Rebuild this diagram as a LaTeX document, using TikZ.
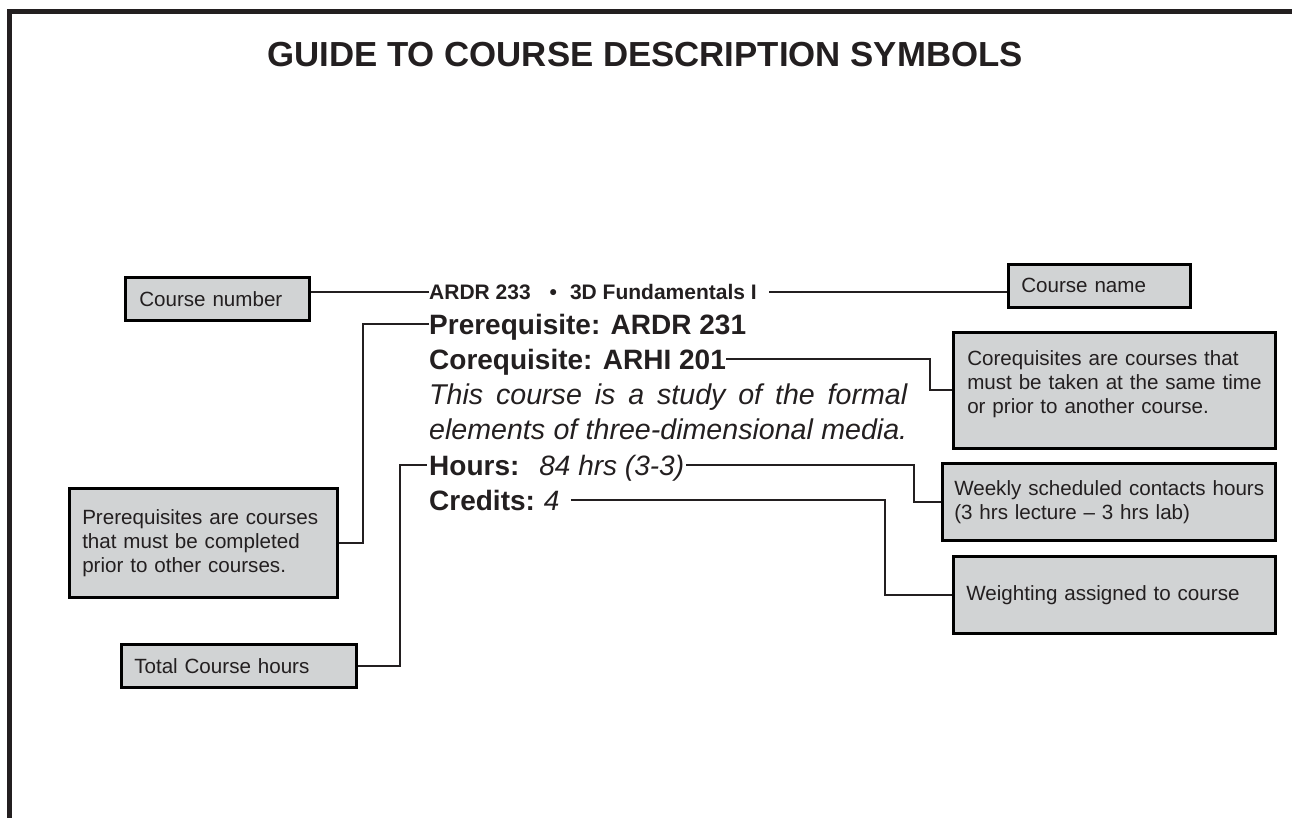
\documentclass[tikz,border=0pt]{standalone}
\usepackage{fontspec}
\setmainfont{Liberation Sans}
\usetikzlibrary{calc}
\definecolor{ink}{HTML}{231F20}
\definecolor{boxgray}{HTML}{D1D3D4}
\tikzset{
  gbox/.style={draw=black, fill=boxgray, line width=2.5pt, inner ysep=0pt,
    anchor=north west, align=left, text=ink,
    font=\fontsize{20.6}{24}\selectfont},
  conn/.style={draw=ink, line width=2.2pt},
  bigtxt/.style={anchor=west, inner sep=0pt, text=ink, text height=20pt, text depth=0pt,
    font=\fontsize{28}{34}\selectfont},
  smalltxt/.style={anchor=west, inner sep=0pt, text=ink, text height=15pt, text depth=0pt,
    font=\bfseries\fontsize{21}{24}\selectfont},
}
\begin{document}
\begin{tikzpicture}[x=1pt,y=-1pt]
\useasboundingbox (0,0) rectangle (1292,818);
% frame
\draw[ink, line width=5pt, line join=miter] (1295,11.5) -- (9.5,11.5) -- (9.5,821);
% title
\node[text=ink, inner sep=0pt, font=\bfseries\fontsize{34.8}{40}\selectfont] (title) at (645,55)
  {GUIDE TO COURSE DESCRIPTION SYMBOLS};

% central description
\node[smalltxt] (ardr) at (429,292) {ARDR 233\hspace{19pt}•\hspace{13pt}3D Fundamentals I};
\node[bigtxt, font=\bfseries\fontsize{28}{34}\selectfont] (pre) at (429,324) {Prerequisite: ARDR 231};
\node[bigtxt, font=\bfseries\fontsize{28}{34}\selectfont] (co) at (429,359) {Corequisite: ARHI 201};
\node[bigtxt, font=\itshape\fontsize{28.6}{34}\selectfont] (desc1) at (429,394)
  {\makebox[478pt][s]{This course is a study of the formal}};
\node[bigtxt, font=\itshape\fontsize{28.6}{34}\selectfont] (desc2) at (429,429)
  {\makebox[478pt][s]{elements of three-dimensional media.}};
\node[bigtxt] (hrs) at (429,465) {\textbf{Hours:}\hspace{20pt}\textit{84 hrs (3-3)}};
\node[bigtxt] (cred) at (429,500) {\textbf{Credits:}\hspace{9pt}\textit{4}};

% boxes
\node[gbox, inner xsep=14pt, text width=156pt, minimum width=184pt, minimum height=43pt]
  (cnum) at (124,276) {Course number};
\node[gbox, inner xsep=13pt, text width=156pt, minimum width=182pt, minimum height=43pt]
  (cname) at (1007,263) {Course name};
\node[gbox, inner xsep=14pt, text width=294pt, minimum width=322pt, minimum height=116pt]
  (cobox) at (952,331)
  {\makebox[294pt][s]{Corequisites are courses that}\\
   \makebox[294pt][s]{must be taken at the same time}\\
   or prior to another course.\rule[-16pt]{0pt}{16pt}};
\node[gbox, inner xsep=12pt, text width=309pt, minimum width=333pt, minimum height=77pt]
  (weekly) at (941,462)
  {\mbox{Weekly scheduled contacts hours}\\\mbox{(3 hrs lecture – 3 hrs lab)}};
\node[gbox, inner xsep=13pt, text width=296pt, minimum width=322pt, minimum height=77pt]
  (weight) at (952,555) {Weighting assigned to course};
\node[gbox, inner xsep=13pt, text width=242pt, minimum width=268pt, minimum height=109pt]
  (prebox) at (68,487)
  {\makebox[242pt][s]{Prerequisites are courses}\\
   \makebox[242pt][s]{that must be completed}\\
   prior to other courses.};
\node[gbox, inner xsep=13pt, text width=209pt, minimum width=235pt, minimum height=43pt]
  (total) at (120,643) {Total Course hours};

% connector columns
\coordinate (xpre) at (363,0);
\coordinate (xco) at (930,0);
\coordinate (xhrs) at (914,0);
\coordinate (xcred) at (885,0);
\coordinate (xtot) at (400,0);

% connectors
\draw[conn] (ardr.west) -- (ardr.west -| cnum.east);
\draw[conn] ([xshift=12pt]ardr.east) -- (ardr.east -| cname.west);
\draw[conn] (pre.west) -- (pre.west -| xpre) |- (prebox.east);
\draw[conn] (co.east) -- (co.east -| xco) |- (cobox.west);
\draw[conn] ([xshift=2pt]hrs.east) -- (hrs.east -| xhrs) |- (weekly.west);
\draw[conn] ([xshift=11pt]cred.east) -- (cred.east -| xcred) |- (weight.west);
\draw[conn] (total.east) -| (xtot |- hrs.west) -- ([xshift=-2pt]hrs.west);
\end{tikzpicture}
\end{document}
